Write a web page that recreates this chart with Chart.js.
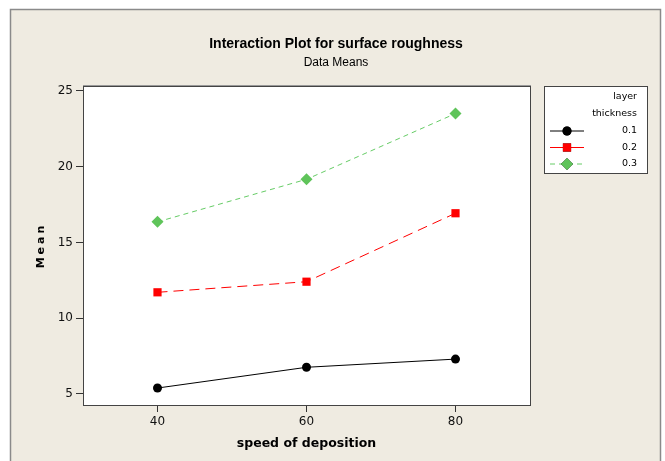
<!DOCTYPE html>
<html>
<head>
<meta charset="utf-8">
<script src="https://cdn.jsdelivr.net/npm/chart.js@4.4.1/dist/chart.umd.min.js"></script>
<style>
  html, body { margin: 0; padding: 0; background: #fff; }
  #wrap { width: 665px; height: 461px; position: relative; }
</style>
</head>
<body>
<div id="wrap"><canvas id="chart" width="665" height="461"></canvas></div>
<script>
// speed of deposition (x) and mean surface roughness per layer thickness
const speeds = [40, 60, 80];
const thicknessLabels = ['0.1', '0.2', '0.3'];
const mean01 = [5.39, 6.76, 7.30];
const mean02 = [11.71, 12.41, 16.93];
const mean03 = [16.36, 19.17, 23.51];
const yTicks = [5, 10, 15, 20, 25];

const toPoints = vals => speeds.map((s, i) => ({ x: s, y: vals[i] }));

// background, outer frame, plot box, titles and legend box
const framePlugin = {
    id: 'frame',
    beforeDraw(chart) {
        const ctx = chart.ctx;
        const a = chart.chartArea;
        ctx.save();
        ctx.fillStyle = '#fff';
        ctx.fillRect(0, 0, chart.width, chart.height);
        ctx.fillStyle = '#efebe1';
        ctx.fillRect(10, 9, 651, chart.height);
        ctx.strokeStyle = '#8a8a8a';
        ctx.lineWidth = 1.5;
        ctx.beginPath();
        ctx.moveTo(10.5, chart.height);
        ctx.lineTo(10.5, 9.5);
        ctx.lineTo(660.5, 9.5);
        ctx.lineTo(660.5, chart.height);
        ctx.stroke();
        ctx.fillStyle = '#fff';
        ctx.fillRect(a.left, a.top, a.right - a.left, a.bottom - a.top);
        ctx.restore();
    },
    afterDatasetsDraw(chart) {
        const ctx = chart.ctx;
        const a = chart.chartArea;
        ctx.save();
        // plot border
        ctx.strokeStyle = '#444';
        ctx.lineWidth = 1;
        ctx.strokeRect(a.left + 0.5, a.top + 0.5, a.right - a.left, a.bottom - a.top);
        ctx.strokeStyle = '#999';
        ctx.beginPath();
        ctx.moveTo(a.left, a.top - 0.5);
        ctx.lineTo(a.right + 1, a.top - 0.5);
        ctx.stroke();

        // titles
        ctx.fillStyle = '#000';
        ctx.textAlign = 'center';
        ctx.textBaseline = 'middle';
        ctx.font = 'bold 14px "Liberation Sans", Arial, sans-serif';
        ctx.fillText('Interaction Plot for surface roughness', 336, 44);
        ctx.font = '12px "Liberation Sans", Arial, sans-serif';
        ctx.fillText('Data Means', 336, 63);

        // y axis title with letter spacing
        ctx.save();
        ctx.translate(41, 247);
        ctx.rotate(-Math.PI / 2);
        ctx.font = 'bold 11px "DejaVu Sans", sans-serif';
        ctx.letterSpacing = '3px';
        ctx.fillText('Mean', 1.5, 0);
        ctx.restore();

        // legend
        ctx.fillStyle = '#fff';
        ctx.fillRect(544, 86, 103, 87);
        ctx.strokeStyle = '#444';
        ctx.strokeRect(544.5, 86.5, 103, 87);
        ctx.fillStyle = '#000';
        ctx.textAlign = 'right';
        ctx.font = '9.5px "DejaVu Sans", sans-serif';
        ctx.fillText('layer', 637, 97);
        ctx.fillText('thickness', 637, 114);
        chart.data.datasets.forEach((ds, i) => {
            const y = 131 + i * 16.5;
            ctx.save();
            ctx.strokeStyle = ds.borderColor;
            ctx.lineWidth = 1;
            ctx.setLineDash(i === 2 ? [5, 4] : []);
            ctx.beginPath();
            ctx.moveTo(550, y);
            ctx.lineTo(584, y);
            ctx.stroke();
            ctx.restore();
            Chart.helpers.drawPoint(ctx, {
                pointStyle: ds.pointStyle,
                radius: ds.pointRadius,
                rotation: 0,
                borderWidth: 0
            }, 567, y);
            ctx.fillStyle = ds.pointBackgroundColor;
            ctx.fill();
            ctx.fillStyle = '#000';
            ctx.fillText(ds.label, 637, y);
        });
        ctx.restore();
    }
};

new Chart(document.getElementById('chart'), {
    type: 'line',
    data: {
        datasets: [
            {
                label: thicknessLabels[0],
                data: toPoints(mean01),
                borderColor: '#000',
                borderWidth: 1,
                pointStyle: 'circle',
                pointRadius: 4.5,
                pointBackgroundColor: '#000',
                pointBorderWidth: 0
            },
            {
                label: thicknessLabels[1],
                data: toPoints(mean02),
                borderColor: '#ff0000',
                borderWidth: 1,
                borderDash: [10, 6],
                pointStyle: 'rect',
                pointRadius: 5.8,
                pointBackgroundColor: '#ff0000',
                pointBorderWidth: 0
            },
            {
                label: thicknessLabels[2],
                data: toPoints(mean03),
                borderColor: '#66cc66',
                borderWidth: 1,
                borderDash: [5, 4],
                pointStyle: 'rectRot',
                pointRadius: 6,
                pointBackgroundColor: '#5fc45a',
                pointBorderWidth: 0
            }
        ]
    },
    options: {
        responsive: false,
        animation: false,
        layout: { padding: { top: 86, right: 135, left: 0, bottom: 0 } },
        plugins: {
            legend: { display: false },
            title: { display: false },
            tooltip: { enabled: false }
        },
        scales: {
            x: {
                type: 'linear',
                min: 30,
                max: 90,
                afterBuildTicks: s => { s.ticks = speeds.map(v => ({ value: v })); },
                afterFit: s => { s.height = 56; },
                grid: { drawOnChartArea: false, drawTicks: true, tickLength: 7, color: '#333' },
                border: { display: true, color: '#444' },
                ticks: { color: '#111', font: { family: 'DejaVu Sans', size: 12 }, padding: 3 },
                title: {
                    display: true,
                    text: 'speed of deposition',
                    color: '#000',
                    font: { family: 'DejaVu Sans', size: 12.5, weight: 'bold' },
                    padding: { top: 0, bottom: 10 }
                }
            },
            y: {
                min: 4.27,
                max: 25.33,
                afterBuildTicks: s => { s.ticks = yTicks.map(v => ({ value: v })); },
                afterFit: s => { s.width = 83; },
                grid: { drawOnChartArea: false, drawTicks: true, tickLength: 7, color: '#333' },
                border: { display: true, color: '#444' },
                ticks: { color: '#111', font: { family: 'DejaVu Sans', size: 12 }, padding: 3 }
            }
        }
    },
    plugins: [framePlugin]
});
</script>
</body>
</html>
